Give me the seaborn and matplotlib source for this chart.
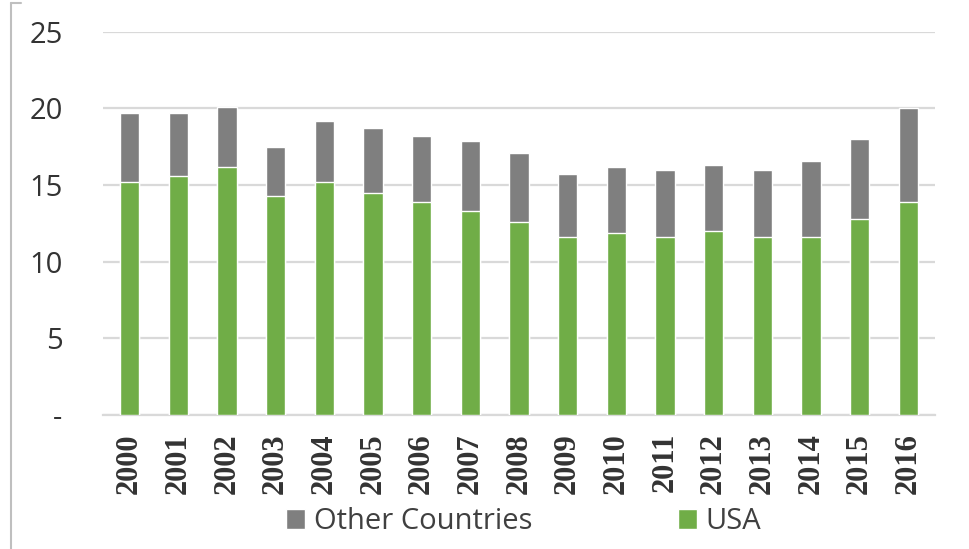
import matplotlib
matplotlib.use("Agg")
import matplotlib.pyplot as plt
import seaborn as sns
import pandas as pd
import numpy as np
from matplotlib.lines import Line2D
from matplotlib.patches import Patch

years = ["2000", "2001", "2002", "2003", "2004", "2005", "2006", "2007", "2008",
         "2009", "2010", "2011", "2012", "2013", "2014", "2015", "2016"]
usa = [15.2, 15.6, 16.2, 14.3, 15.2, 14.5, 13.9, 13.3, 12.6,
       11.6, 11.9, 11.6, 12.0, 11.6, 11.6, 12.8, 13.9]
other = [4.5, 4.1, 3.9, 3.2, 4.0, 4.2, 4.3, 4.6, 4.5,
         4.1, 4.3, 4.4, 4.3, 4.4, 5.0, 5.2, 6.1]
yticks = [0, 5, 10, 15, 20, 25]
yticklabels = ["-", "5", "10", "15", "20", "25"]

GREEN = "#70AD47"
GRAY = "#7F7F7F"

df = pd.DataFrame({"year": years, "USA": usa, "Other Countries": other})
df["total"] = df["USA"] + df["Other Countries"]

sns.set_style("white")
fig = plt.figure(figsize=(9.7, 5.49), dpi=100)
ax = fig.add_axes([0.106, 0.244, 0.858, 0.698])

sns.barplot(data=df, x="year", y="total", color=GRAY, width=0.4,
            saturation=1, ax=ax, zorder=3)
sns.barplot(data=df, x="year", y="USA", color=GREEN, width=0.4,
            saturation=1, ax=ax, zorder=4)

ax.set_xlim(-0.55, len(years) - 0.45)
ax.set_ylim(0, 25)
ax.set_yticks(yticks)
ax.set_yticklabels(yticklabels, fontfamily="Open Sans", fontsize=21, color="#333333")
ax.yaxis.grid(True, color="#D9D9D9", linewidth=1.6, zorder=0)
ax.set_axisbelow(True)
for s in ["top", "right", "left"]:
    ax.spines[s].set_visible(False)
ax.spines["bottom"].set_color("#D9D9D9")
ax.spines["bottom"].set_linewidth(1.6)
ax.tick_params(axis="y", length=0, pad=29)
ax.tick_params(axis="x", length=0, pad=13)
ax.set_xticks(range(len(years)))
ax.set_xticklabels(years, rotation=90, fontfamily="Liberation Serif",
                   fontsize=22, fontweight="bold", color="#333333")
ax.set_xticks(np.arange(-0.5, len(years), 1.0), minor=True)
ax.tick_params(axis="x", which="minor", length=5, color="#D9D9D9", width=1.2, direction="in")
ax.set_xlabel("")
ax.set_ylabel("")

handles = [Patch(facecolor=GRAY, label="Other Countries"),
           Patch(facecolor=GREEN, label="USA")]
leg = fig.legend(handles=handles, loc="center", bbox_to_anchor=(0.54, 0.05),
                 ncol=2, frameon=False, handlelength=0.65, handleheight=0.65,
                 handletextpad=0.3, columnspacing=5.0,
                 prop={"family": "Open Sans", "size": 21})
for t in leg.get_texts():
    t.set_color("#404040")

# outer frame line at left
fig.add_artist(Line2D([0.011, 0.011], [0.0, 0.995], transform=fig.transFigure,
                      color="#BFBFBF", linewidth=1.5))
fig.add_artist(Line2D([0.011, 0.022], [0.995, 0.995], transform=fig.transFigure,
                      color="#BFBFBF", linewidth=1.5))

fig.savefig("out.png", dpi=100)
